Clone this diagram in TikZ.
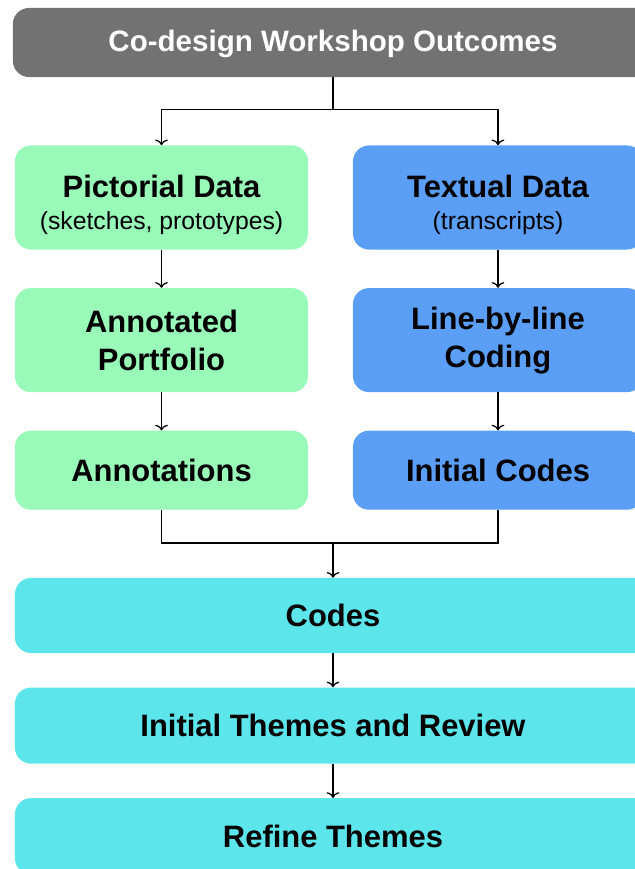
\documentclass[tikz,border=0pt]{standalone}
\usepackage{fontspec}
\setmainfont{Liberation Sans}
\usepackage{tikz}
\usetikzlibrary{positioning, arrows.meta}

\definecolor{headgray}{HTML}{727272}
\definecolor{pictgreen}{HTML}{98F9B9}
\definecolor{textblue}{HTML}{5A9EF6}
\definecolor{themecyan}{HTML}{5CE6EC}

\begin{document}
\begin{tikzpicture}[
    x=0.025cm, y=-0.025cm,
    node distance=0.95cm,
    box/.style={rectangle, rounded corners=0.4cm, align=center, inner sep=0pt,
        font=\fontsize{22}{27}\selectfont\bfseries},
    headbox/.style={box, fill=headgray, text=white, minimum width=16cm, minimum height=1.725cm,
        font=\fontsize{21}{26}\selectfont\bfseries},
    pictbox/.style={box, fill=pictgreen, minimum width=7.325cm, minimum height=2.6cm},
    textbox/.style={box, fill=textblue, minimum width=7.25cm, minimum height=2.6cm},
    themebox/.style={box, fill=themecyan, minimum width=15.9cm, minimum height=1.9cm},
    link/.style={line width=0.9pt, -{To[length=4pt,width=9pt]}},
]
    \useasboundingbox (0,0) rectangle (635,869);

    \node[headbox] (outcomes) at (333,42.5) {\rule{0pt}{17pt}Co-design Workshop Outcomes};
    \node[pictbox] (pict) at (161.5,197.5) {\rule{0pt}{26pt}Pictorial Data\\[-4pt]{\fontsize{17.6}{22}\selectfont\mdseries (sketches, prototypes)}};
    \node[textbox] (text) at (498,197.5) {\rule{0pt}{26pt}Textual Data\\[-4pt]{\fontsize{17.6}{22}\selectfont\mdseries (transcripts)}};
    \node[pictbox, below=of pict] (portfolio) {Annotated\\Portfolio};
    \node[textbox, below=of text] (linecoding) {Line-by-line\\Coding};
    \node[pictbox, below=of portfolio, minimum height=1.975cm] (annot) {Annotations};
    \node[textbox, below=of linecoding, minimum height=1.975cm] (initcodes) {Initial Codes};
    \node[themebox, minimum height=1.875cm] (codes) at (333,615.5) {Codes};
    \node[themebox, below=0.85cm of codes] (themes) {Initial Themes and Review};
    \node[themebox, below=0.85cm of themes] (refine) {Refine Themes};

    % split
    \draw[line width=0.9pt] (outcomes.south) -- ++(0,32) coordinate (split);
    \draw[link] (split) -| (pict);
    \draw[link] (split) -| (text);

    % columns
    \draw[link] (pict) -- (portfolio);
    \draw[link] (portfolio) -- (annot);
    \draw[link] (text) -- (linecoding);
    \draw[link] (linecoding) -- (initcodes);

    % merge
    \coordinate (join) at (333,543);
    \draw[line width=0.9pt] (annot.south) |- (join) -| (initcodes.south);
    \draw[link] (join) -- (codes);
    \draw[link] (codes) -- (themes);
    \draw[link] (themes) -- (refine);
\end{tikzpicture}
\end{document}
